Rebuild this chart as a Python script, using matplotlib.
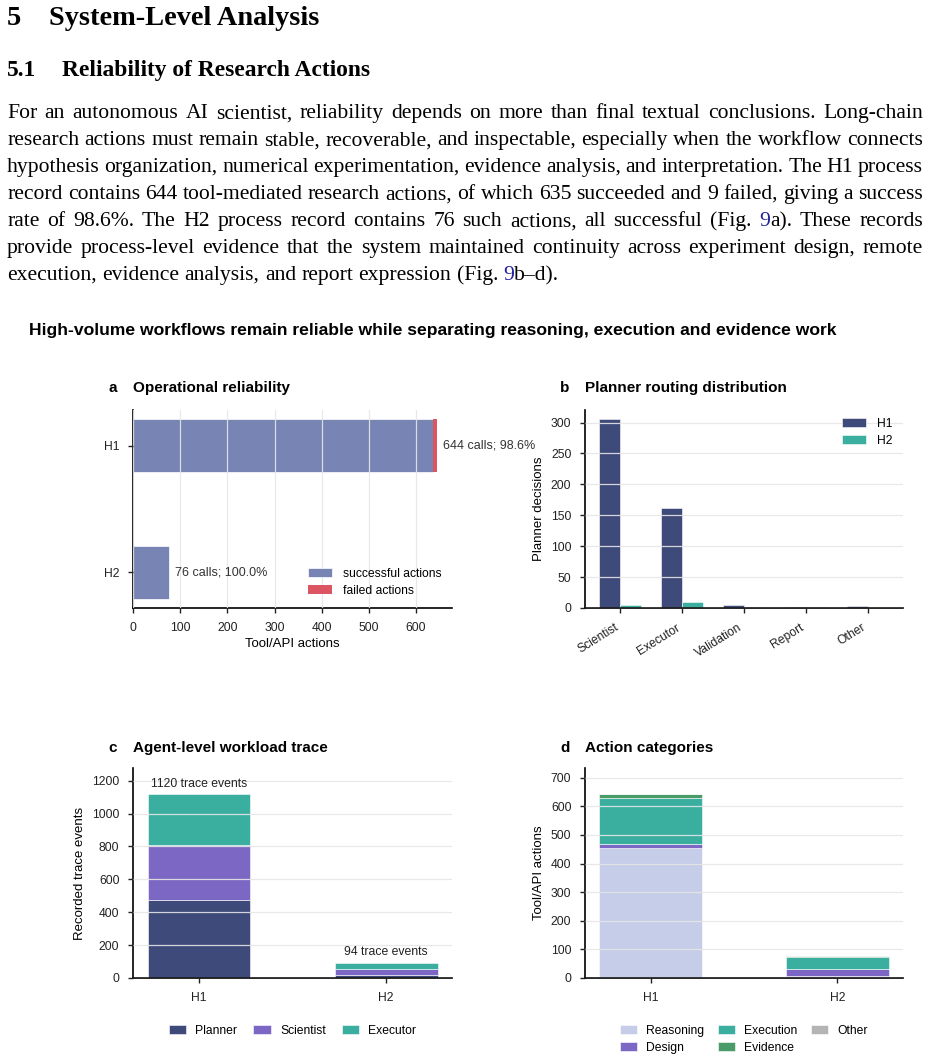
import numpy as np
import matplotlib
matplotlib.use('Agg')
import matplotlib.pyplot as plt

plt.rcParams['font.family'] = ['Liberation Sans', 'DejaVu Sans']
plt.rcParams['font.size'] = 8.7

W, H = 931, 1061

# data
groups = ['H1', 'H2']
ok_actions = [635, 76]
failed_actions = [9, 0]

route_cats = ['Scientist', 'Executor', 'Validation', 'Report', 'Other']
route_h1 = [305, 161, 5, 2, 3]
route_h2 = [5, 9, 2, 2, 0]

agent_labels = ['Planner', 'Scientist', 'Executor']
trace_h1 = [476, 330, 314]
trace_h2 = [18, 38, 38]

act_labels = ['Reasoning', 'Design', 'Execution', 'Evidence', 'Other']
act_h1 = [453, 17, 159, 13, 2]
act_h2 = [6, 26, 42, 2, 0]

body_lines = [
    "For an autonomous AI scientist, reliability depends on more than final textual conclusions.  Long-chain",
    "research actions must remain stable, recoverable, and inspectable, especially when the workflow connects",
    "hypothesis organization, numerical experimentation, evidence analysis, and interpretation. The H1 process",
    "record contains 644 tool-mediated research actions, of which 635 succeeded and 9 failed, giving a success",
    "rate of 98.6%.  The H2 process record contains 76 such actions, all successful (Fig. 9a).  These records",
    "provide process-level evidence that the system maintained continuity across experiment design, remote",
    "execution, evidence analysis, and report expression (Fig. 9b\u2013d).",
]

# colours
c_ok = '#7884b4'
c_fail = '#dc5562'
c_navy = '#3e4a7a'
c_teal = '#3aafa0'
c_purple = '#7d67c4'
c_light = '#c5cde8'
c_green = '#4b9b69'
c_grey = '#b4b4b4'
c_link = '#2323a0'


def fx(x):
    return x / W


def fy(y):
    return 1 - y / H


fig = plt.figure(figsize=(W / 100, H / 100), dpi=100)
rend = fig.canvas.get_renderer()
serif = 'Liberation Serif'


def put_line(line, base, size, justify=True, x0=7, x1=923):
    # place word by word so the line is justified like the LaTeX page
    words = line.split()
    items = []
    prev = ''
    for w in words:
        if prev == '(Fig.' and w.startswith('9'):
            parts = [('9', c_link), (w[1:], 'black')]
        else:
            parts = [(w, 'black')]
        objs = []
        tot = 0
        for s, col in parts:
            t = fig.text(0, fy(base), s, fontsize=size, family=serif, color=col, va='baseline')
            wd = t.get_window_extent(rend).width
            objs.append((t, wd))
            tot += wd
        items.append((objs, tot))
        prev = w
    widths = sum(it[1] for it in items)
    if justify:
        gap = (x1 - x0 - widths) / (len(items) - 1)
    else:
        gap = size * 100 / 72 * 0.25
    x = x0
    for objs, tot in items:
        xx = x
        for t, wd in objs:
            t.set_x(fx(xx))
            xx += wd
        x += tot + gap


# headings
fig.text(fx(7), fy(25), '5', fontsize=20.4, family=serif, fontweight='bold', va='baseline')
fig.text(fx(49), fy(25), 'System-Level Analysis', fontsize=20.4, family=serif, fontweight='bold', va='baseline')
fig.text(fx(7), fy(76), '5.1', fontsize=16.9, family=serif, fontweight='bold', va='baseline')
fig.text(fx(62), fy(76), 'Reliability of Research Actions', fontsize=16.9, family=serif, fontweight='bold', va='baseline')

for i, line in enumerate(body_lines):
    put_line(line, 118.3 + 26.95 * i, 15.6, justify=(i < len(body_lines) - 1))

fig.text(fx(29), fy(330), 'High-volume workflows remain reliable while separating reasoning, execution and evidence work',
         fontsize=12.6, fontweight='bold', va='center')


def style(ax):
    for s in ['top', 'right']:
        ax.spines[s].set_visible(False)
    for s in ['left', 'bottom']:
        ax.spines[s].set_linewidth(1.2)
    ax.tick_params(length=3.8, width=1, pad=6, labelsize=8.7, colors='#222222')
    ax.set_axisbelow(False)


def panel_title(ax, letter, title, x, y):
    fig.text(fx(x - 20), fy(y), letter, fontsize=11, fontweight='bold', va='center', ha='center')
    fig.text(fx(x), fy(y), title, fontsize=11, fontweight='bold', va='center')


grid_kw = dict(color='#e6e6e6', linewidth=0.9, alpha=0.9)
leg_kw = dict(frameon=False, fontsize=8.75, borderpad=0, borderaxespad=0,
              handlelength=2.0, handleheight=0.7, handletextpad=0.85, labelspacing=0.4)

# a  operational reliability
ax = fig.add_axes([fx(133), fy(608), (452 - 133) / W, (608 - 410) / H])
style(ax)
y = np.arange(len(groups))
ax.barh(y, ok_actions, height=0.42, color=c_ok, edgecolor='white', linewidth=0.5, label='successful actions')
ax.barh(y, failed_actions, left=ok_actions, height=0.42, color=c_fail, linewidth=0, label='failed actions')
ax.set_ylim(1.28, -0.28)
ax.set_xlim(0, max(ok_actions[0] + failed_actions[0], 1) * 1.05)
ax.set_yticks(y)
ax.set_yticklabels(groups)
ax.set_xticks(np.arange(0, 700, 100))
ax.xaxis.grid(True, **grid_kw)
ax.set_xlabel('Tool/API actions', fontsize=9.5, labelpad=3)
for i in range(len(groups)):
    tot = ok_actions[i] + failed_actions[i]
    ax.annotate(f'{tot} calls; {100 * ok_actions[i] / tot:.1f}%', (tot, i), xytext=(4.5, 0),
                textcoords='offset points', va='center', fontsize=9, color='#333333')
ax.legend(loc='upper left', bbox_to_anchor=((308 - 133) / 319, (608 - 568) / 198), **leg_kw)
panel_title(ax, 'a', 'Operational reliability', 133, 388)

# b  planner routing
ax = fig.add_axes([fx(585), fy(608), (903 - 585) / W, (608 - 410) / H])
style(ax)
x = np.arange(len(route_cats))
ax.bar(x - 0.17, route_h1, 0.34, color=c_navy, edgecolor='white', linewidth=0.4, label='H1')
ax.bar(x + 0.17, route_h2, 0.34, color=c_teal, edgecolor='white', linewidth=0.4, label='H2')
ax.set_ylim(0, max(route_h1) * 1.05)
ax.set_yticks(np.arange(0, 301, 50))
ax.set_xticks(x)
ax.set_xticklabels(route_cats, rotation=32, ha='right')
ax.yaxis.grid(True, **grid_kw)
ax.set_ylabel('Planner decisions', fontsize=9.5, labelpad=4)
ax.legend(loc='upper left', bbox_to_anchor=((842 - 585) / 318, (608 - 418) / 198), **leg_kw)
panel_title(ax, 'b', 'Planner routing distribution', 585, 388)

# c  agent-level trace
ax = fig.add_axes([fx(133), fy(978), (452 - 133) / W, (978 - 768) / H])
style(ax)
x = np.arange(len(groups))
vals = np.array([trace_h1, trace_h2]).T
bottom = np.zeros(len(groups))
for lab, v, col in zip(agent_labels, vals, [c_navy, c_purple, c_teal]):
    ax.bar(x, v, 0.55, bottom=bottom, color=col, edgecolor='white', linewidth=0.4, label=lab)
    bottom += v
ax.set_ylim(0, bottom.max() * 1.14)
ax.set_yticks(np.arange(0, 1201, 200))
ax.set_xticks(x)
ax.set_xticklabels(groups)
ax.yaxis.grid(True, **grid_kw)
ax.set_ylabel('Recorded trace events', fontsize=9.5, labelpad=4)
for i, tot in enumerate(bottom):
    ax.annotate(f'{int(tot)} trace events', (i, tot), xytext=(0, 3), textcoords='offset points',
                ha='center', va='bottom', fontsize=8.8, color='#222222')
ax.legend(loc='upper center', bbox_to_anchor=(0.5, (978 - 1025) / 210), ncol=3, columnspacing=1.3,
          **dict(leg_kw, handlelength=1.45, handletextpad=0.75))
panel_title(ax, 'c', 'Agent-level workload trace', 133, 748)

# d  action categories
ax = fig.add_axes([fx(585), fy(978), (903 - 585) / W, (978 - 768) / H])
style(ax)
vals = np.array([act_h1, act_h2]).T
bottom = np.zeros(len(groups))
for lab, v, col in zip(act_labels, vals, [c_light, c_purple, c_teal, c_green, c_grey]):
    ax.bar(x, v, 0.55, bottom=bottom, color=col, edgecolor='white', linewidth=0.4, label=lab)
    bottom += v
ax.set_ylim(0, bottom.max() * 1.14)
ax.set_yticks(np.arange(0, 701, 100))
ax.set_xticks(x)
ax.set_xticklabels(groups)
ax.yaxis.grid(True, **grid_kw)
ax.set_ylabel('Tool/API actions', fontsize=9.5, labelpad=4)
ax.legend(loc='upper center', bbox_to_anchor=(0.5, (978 - 1025) / 210), ncol=3, columnspacing=1.15,
          **dict(leg_kw, handlelength=1.4, handletextpad=0.75))
panel_title(ax, 'd', 'Action categories', 585, 748)

fig.savefig('out.png', dpi=100, facecolor='white')
